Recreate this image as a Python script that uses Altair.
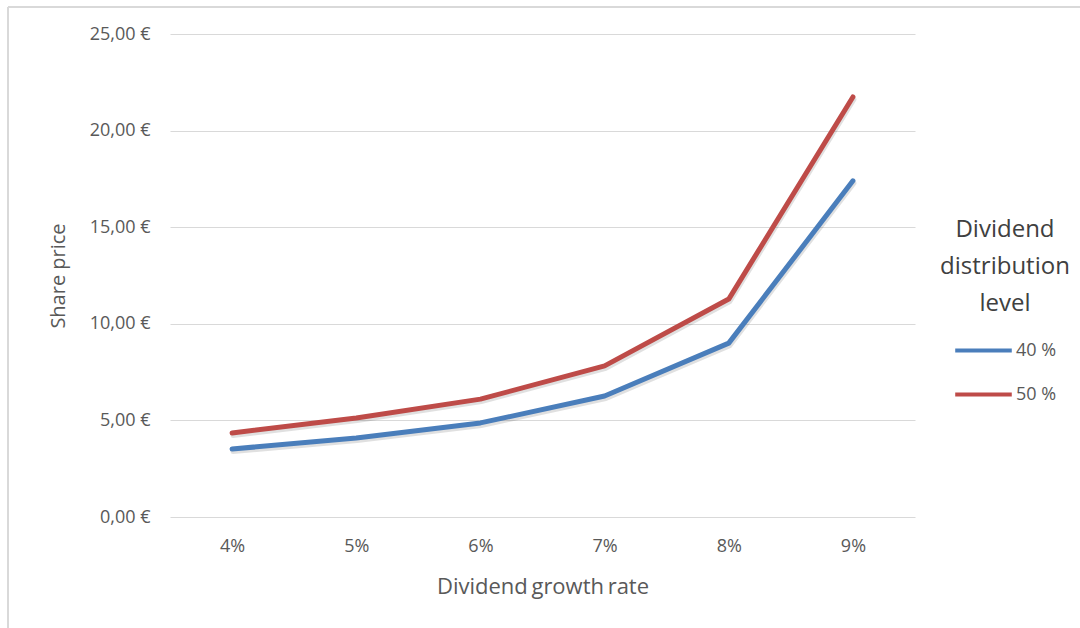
import altair as alt
import pandas as pd

# Share price by dividend growth rate, for two payout levels
growth_rates = ["4%", "5%", "6%", "7%", "8%", "9%"]
price_40 = [3.52, 4.09, 4.87, 6.26, 9.00, 17.40]
price_50 = [4.35, 5.12, 6.10, 7.82, 11.28, 21.74]
levels = ["40 %", "50 %"]
y_ticks = [0, 5, 10, 15, 20, 25]

rows = []
for lvl, vals in zip(levels, [price_40, price_50]):
    for g, v in zip(growth_rates, vals):
        rows.append({"growth": g, "price": v, "level": lvl})
df = pd.DataFrame(rows)

FONT = "Open Sans"
GREY_TXT = "#595959"

x_enc = alt.X(
    "growth:O",
    sort=growth_rates,
    scale=alt.Scale(type="point", padding=0.5),
    axis=alt.Axis(
        title="Dividend\u2009growth\u2009rate",
        labelAngle=0,
        labelFontSize=18,
        labelColor=GREY_TXT,
        labelPadding=20,
        titleFontSize=22,
        titleColor=GREY_TXT,
        titlePadding=21,
        titleFontWeight="normal",
        domain=False,
        ticks=False,
        grid=False,
    ),
)
y_enc = alt.Y(
    "price:Q",
    scale=alt.Scale(domain=[0, 25], nice=False),
    axis=alt.Axis(
        title="Share price",
        values=y_ticks,
        labelExpr="replace(format(datum.value, '.2f'), '.', ',') + ' €'",
        labelFontSize=18,
        labelColor=GREY_TXT,
        labelPadding=20,
        titleFontSize=20,
        titleColor=GREY_TXT,
        titlePadding=21,
        titleFontWeight="normal",
        domain=False,
        ticks=False,
        grid=True,
        gridColor="#d9d9d9",
        gridWidth=1,
    ),
)

shadow = alt.Chart(df).mark_line(
    strokeWidth=5, color="#000000", opacity=0.12, yOffset=2.5, xOffset=1, strokeCap="round"
).encode(x=x_enc, y=y_enc, detail="level:N")

lines = alt.Chart(df).mark_line(strokeWidth=5, strokeCap="round", strokeJoin="round").encode(
    x=x_enc,
    y=y_enc,
    color=alt.Color(
        "level:N",
        scale=alt.Scale(domain=levels, range=["#4A7EBB", "#BE4B48"]),
        legend=alt.Legend(
            title=["Dividend", "distribution", "level"],
            titleFontSize=24,
            titleFontWeight="normal",
            titleColor="#404040",
            titleAlign="center",
            titleAnchor="middle",
            titleLineHeight=37,
            titlePadding=4,
            labelFontSize=18,
            labelColor=GREY_TXT,
            labelOffset=2,
            symbolType="stroke",
            symbolStrokeWidth=4,
            symbolSize=3200,
            rowPadding=4,
            orient="none",
            legendX=770,
            legendY=184,
        ),
    ),
)

# thin frame along the top and left edges of the figure
frame_top = alt.Chart(df).mark_rule(color="#d9d9d9", strokeWidth=1.5).encode(
    x=alt.value(-162), x2=alt.value(920), y=alt.value(-27)
)
frame_left = alt.Chart(df).mark_rule(color="#d9d9d9", strokeWidth=1.5).encode(
    x=alt.value(-162), y=alt.value(-27), y2=alt.value(600)
)

chart = (
    alt.layer(frame_top, frame_left, shadow, lines)
    .properties(
        width=745,
        height=483,
        autosize=alt.AutoSizeParams(type="none"),
        padding={"left": 170, "top": 34, "right": 165, "bottom": 111},
    )
    .configure(font=FONT, background="white")
    .configure_view(stroke=None)
)

chart.save("out.html", embed_options={"renderer": "svg", "actions": False})
